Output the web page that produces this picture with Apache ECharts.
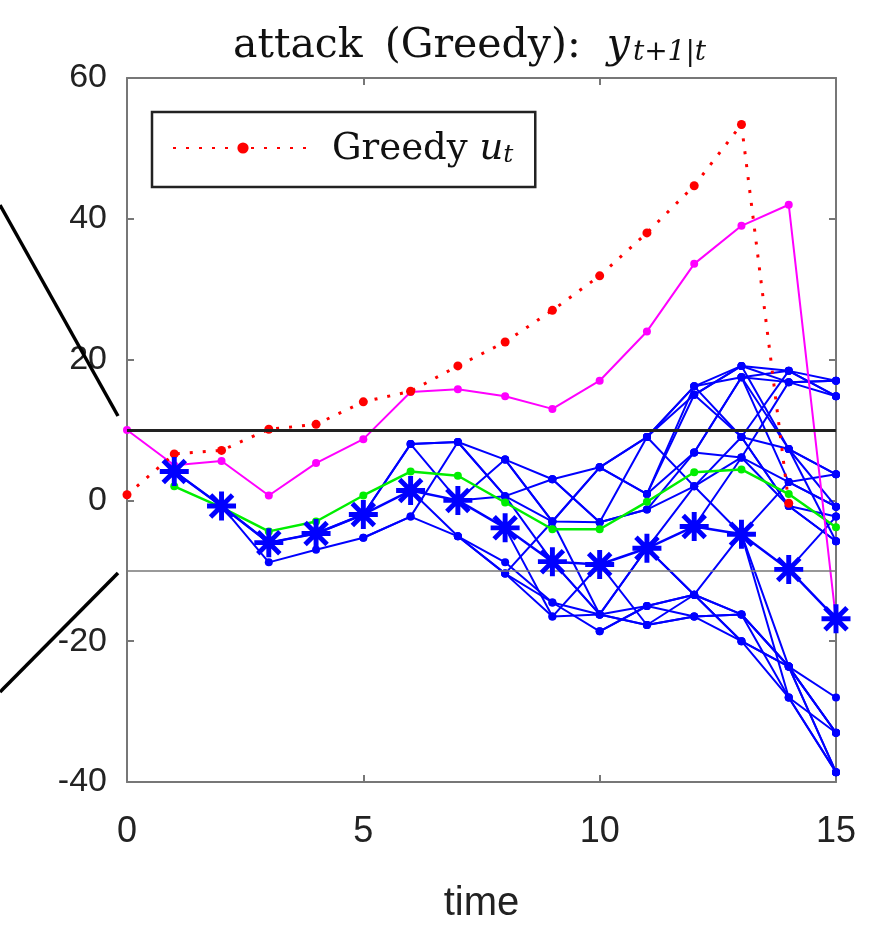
<!DOCTYPE html>
<html>
<head>
<meta charset="utf-8">
<script src="https://cdn.jsdelivr.net/npm/echarts@6/dist/echarts.min.js"></script>
<style>html,body{margin:0;padding:0;background:#fff}#c{width:876px;height:932px}</style>
</head>
<body>
<div id="c"></div>
<script>
// ---- data ----
const xTicks = [0, 5, 10, 15];
const yTicks = [-40, -20, 0, 20, 40, 60];
const thresholds = [10, -10];
// values indexed by time t = 0..15
const greedyU = [0.8, 6.6, 7.1, 10.1, 10.8, 14, 15.5, 19.1, 22.5, 27, 31.9, 38, 44.7, 53.4, -0.4, null];
const magentaY = [10, 5, 5.6, 0.7, 5.3, 8.7, 15.4, 15.8, 14.8, 13, 17, 24, 33.6, 39, 42, -17];
const greenY = [null, 2, -1, -4.4, -3, 0.7, 4.1, 3.5, -0.3, -4.1, -4.1, -0.2, 4, 4.4, 0.9, -3.8];
const starY = [null, 4.1, -0.8, -6, -4.7, -2, 1.4, 0, -3.9, -8.7, -9.1, -6.8, -3.7, -4.8, -9.8, -16.8];
// blue prediction branches, indexed by time t = 0..15
const b1  = [null, 4.1, -0.8, -8.8, -7, -5.3, -2.3, -5.1, -10.4, -16.5, -16.2, -17.7, -13.4, -20, -28, -38.6];
const b2  = [null, null, -0.8, -6, -4.7, -2, 8, 8.3, 5.8, 3, 4.7, 9, 16.2, 19.1, 16.8, 14.8];
const b3  = [null, null, null, null, null, -5.3, -2.3, 8.3, 0.6, -3, 4.7, 0.9, 15, 9, 18.4, 17];
const b4  = [null, null, null, null, null, -2, 8, 0, 5.8, -3, -3.1, -1.3, 6.8, 17.5, 7.3, 3.7];
const b5  = [null, null, null, null, null, null, 1.4, -5.1, -8.8, -14.5, -18.6, -15, -16.5, -16.2, -23.6, -33];
const b6  = [null, null, null, null, null, null, null, 0, 0.6, 3, -3.1, 9, 2, 6.1, 2.6, -0.9];
const b7  = [null, null, null, null, null, null, null, null, -3.9, -16.5, -9.1, -17.7, -16.5, -20, -23.6, -38.6];
const b8  = [null, null, null, null, null, null, null, null, null, -8.7, -16.2, -6.8, -13.4, -4.8, -28, -33];
const b9  = [null, null, null, null, null, null, null, null, null, null, 4.7, 0.9, 16.2, 17.5, 18.4, 14.8];
const b10 = [null, null, null, null, null, null, null, null, null, null, null, -6.8, 2, 9, -0.8, -2.3];
const b11 = [null, null, null, null, null, null, null, null, null, null, null, null, 6.8, 6.1, 16.8, 17];
const b12 = [null, null, null, null, null, null, null, null, null, null, null, null, -3.7, 6.1, -0.8, -5.8];
const b13 = [null, null, null, null, null, null, null, null, null, null, null, null, null, -4.8, 2.6, 3.7];
const b14 = [null, null, null, null, null, null, null, null, null, null, null, null, null, 9, 7.3, -0.9];
const b15 = [null, null, null, null, null, null, null, null, null, null, null, null, null, null, -9.8, -2.3];
const b16 = [null, null, null, null, null, null, null, null, null, null, null, null, null, null, 7.3, -5.8];
const b17 = [null, null, null, null, null, null, null, null, -10.4, -3, 4.7, 9, 15, 19.1, 18.4, 14.8];
const b18 = [null, null, null, null, null, null, null, null, 5.8, -3, -16.2, -15, -13.4, -16.2, -23.6, -38.6];
const b19 = [null, null, null, null, null, null, null, null, null, null, null, 0.9, 6.8, 17.5, 16.8, 17];
const b20 = [null, null, null, null, null, null, null, null, null, null, null, null, 15, 19.1, 7.3, 3.7];
const b21 = [null, null, null, null, null, null, null, null, null, null, null, null, null, 17.5, 2.6, -0.9];
const b22 = [null, null, null, null, null, null, null, null, null, null, -18.6, -15, -13.4, -16.2, -23.6, -33];
const b23 = [null, null, null, null, null, null, null, null, null, 3, -3.1, -1.3, 2, -4.8, -23.6, -28];
const b24 = [null, null, null, null, null, null, null, -5.1, -10.4, -14.5, -16.2, -17.7, -16.5, -16.2, -28, -38.6];
const b25 = [null, null, null, null, null, null, 8, 8.3, 0.6, -8.7, -16.2, -6.8, -13.4, -20, -23.6, -33];
const b26 = [null, null, null, null, null, null, null, null, null, null, null, 9, 16.2, 9, -0.8, -5.8];
const blueBranches = [b1, b2, b3, b4, b5, b6, b7, b8, b9, b10, b11, b12, b13, b14, b15, b16,
  b17, b18, b19, b20, b21, b22, b23, b24, b25, b26];

// ---- helpers ----
const pairs = arr => arr.map((v, i) => v == null ? null : [i, v]).filter(p => p);
const starPath = 'path://M0,8.3L20,8.3L20,11.7L0,11.7Z M8.3,0L11.7,0L11.7,20L8.3,20Z M1.2,3.6L3.6,1.2L18.8,16.4L16.4,18.8Z M16.4,1.2L18.8,3.6L3.6,18.8L1.2,16.4Z';
const BLUE = '#0000ff';
const serif = '"DejaVu Serif", "Liberation Serif", serif';
const sans = '"Liberation Sans", Arial, sans-serif';

const series = [];
blueBranches.forEach((b, k) => {
  series.push({
    name: 'branch' + k, type: 'line', data: pairs(b), z: 2,
    symbol: 'circle', symbolSize: 8, showSymbol: true,
    lineStyle: { color: BLUE, width: 2 }, itemStyle: { color: BLUE },
    silent: true, animation: false
  });
});
series.push({
  name: 'thr', type: 'line', data: [], silent: true, animation: false,
  markLine: {
    silent: true, symbol: 'none', label: { show: false }, animation: false,
    data: [
      { yAxis: thresholds[0], lineStyle: { color: '#222', width: 3, type: 'solid' } },
      { yAxis: thresholds[1], lineStyle: { color: '#777', width: 1.5, type: 'solid' } }
    ]
  }
});
series.push({
  name: 'green', type: 'line', data: pairs(greenY), z: 3,
  symbol: 'circle', symbolSize: 8, lineStyle: { color: '#00ee00', width: 2.5 },
  itemStyle: { color: '#00ee00' }, animation: false
});
series.push({
  name: 'magenta', type: 'line', data: pairs(magentaY), z: 3,
  symbol: 'circle', symbolSize: 8, lineStyle: { color: '#ff00ff', width: 2 },
  itemStyle: { color: '#ff00ff' }, animation: false
});
series.push({
  name: 'Greedy', type: 'line', data: pairs(greedyU), z: 4,
  symbol: 'circle', symbolSize: 9, lineStyle: { color: '#ff0000', width: 3, type: [3, 10] },
  itemStyle: { color: '#ff0000' }, animation: false
});
series.push({
  name: 'stars', type: 'line', data: pairs(starY), z: 5,
  symbol: starPath, symbolSize: 29, lineStyle: { color: BLUE, width: 2.5 },
  itemStyle: { color: BLUE }, animation: false
});

const axisLineStyle = { color: '#777', width: 2 };
const txt = { color: '#111', fontWeight: 'normal', verticalAlign: 'bottom' };
const option = {
  backgroundColor: '#fff',
  animation: false,
  title: {
    left: 228, top: 12,
    text: '{n|attack}{n|(Greedy):}{i|y}{s|t+1|t}',
    textStyle: {
      fontWeight: 'normal',
      rich: {
        n: Object.assign({ fontFamily: serif, fontSize: 41, lineHeight: 50, padding: [0, 22, 0, 0] }, txt),
        i: Object.assign({ fontFamily: serif, fontSize: 41, fontStyle: 'italic', lineHeight: 50, padding: [0, 0, 0, 4] }, txt),
        s: Object.assign({ fontFamily: serif, fontSize: 28, fontStyle: 'italic', lineHeight: 29, padding: [0, 0, 0, 3] }, txt)
      }
    }
  },
  legend: {
    data: ['Greedy'], left: 152, top: 112,
    orient: 'vertical',
    padding: [19, 22, 19, 20],
    itemWidth: 140, itemHeight: 14,
    borderColor: '#222', borderWidth: 2.5, backgroundColor: '#fff',
    formatter: () => '{n|Greedy }{i|u}{s|t}',
    textStyle: {
      rich: {
        n: Object.assign({ fontFamily: serif, fontSize: 37, lineHeight: 40, padding: [0, 0, 0, 14] }, txt),
        i: Object.assign({ fontFamily: serif, fontSize: 37, fontStyle: 'italic', lineHeight: 40 }, txt),
        s: Object.assign({ fontFamily: serif, fontSize: 25, fontStyle: 'italic', lineHeight: 24 }, txt)
      }
    },
    z: 10
  },
  grid: { left: 127, right: 40, top: 78, bottom: 150, containLabel: false },
  xAxis: [
    {
      type: 'value', min: xTicks[0], max: xTicks[xTicks.length - 1], interval: 5,
      axisLine: { show: true, onZero: false, lineStyle: axisLineStyle },
      axisTick: { show: true, inside: true, length: 7, lineStyle: axisLineStyle },
      axisLabel: { fontFamily: sans, fontSize: 36, color: '#222', margin: 32 },
      splitLine: { show: false },
      name: 'time', nameLocation: 'middle', nameGap: 102,
      nameTextStyle: { fontFamily: sans, fontSize: 40, color: '#222' }
    },
    {
      type: 'value', position: 'top', min: xTicks[0], max: xTicks[xTicks.length - 1], interval: 5,
      axisLine: { show: true, onZero: false, lineStyle: axisLineStyle },
      axisTick: { show: true, inside: true, length: 7, lineStyle: axisLineStyle },
      axisLabel: { show: false }, splitLine: { show: false }
    }
  ],
  yAxis: [
    {
      type: 'value', min: yTicks[0], max: yTicks[yTicks.length - 1], interval: 20,
      axisLine: { show: true, onZero: false, lineStyle: axisLineStyle },
      axisTick: { show: true, inside: true, length: 7, lineStyle: axisLineStyle },
      axisLabel: { fontFamily: sans, fontSize: 34, color: '#222', margin: 20 },
      splitLine: { show: false }
    },
    {
      type: 'value', position: 'right', min: yTicks[0], max: yTicks[yTicks.length - 1], interval: 20,
      axisLine: { show: true, onZero: false, lineStyle: axisLineStyle },
      axisTick: { show: true, inside: true, length: 7, lineStyle: axisLineStyle },
      axisLabel: { show: false }, splitLine: { show: false }
    }
  ],
  graphic: [
    { type: 'line', shape: { x1: 0, y1: 205, x2: 118, y2: 416 }, style: { stroke: '#000', lineWidth: 3.5 }, z: 20 },
    { type: 'line', shape: { x1: 118, y1: 573, x2: 0, y2: 692 }, style: { stroke: '#000', lineWidth: 3.5 }, z: 20 }
  ],
  series: series
};
const chart = echarts.init(document.getElementById('c'), null, { renderer: 'canvas' });
chart.setOption(option);
</script>
</body>
</html>
